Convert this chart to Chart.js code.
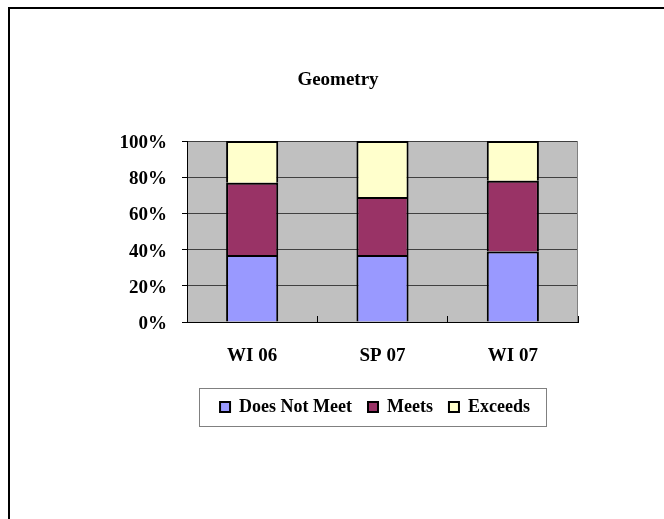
<!DOCTYPE html>
<html>
<head>
<meta charset="utf-8">
<script src="https://cdn.jsdelivr.net/npm/chart.js@4.4.1/dist/chart.umd.min.js"></script>
<style>
  html, body { margin: 0; padding: 0; background: #fff; width: 664px; height: 519px; overflow: hidden; }
  #frame { position: absolute; left: 8px; top: 7px; width: 700px; height: 600px;
           border-left: 2px solid #000; border-top: 2px solid #000; }
  #wrap { position: absolute; left: 0; top: 0; width: 664px; height: 519px; }
</style>
</head>
<body>
<div id="frame"></div>
<div id="wrap"><canvas id="geoChart" width="664" height="519"></canvas></div>
<script>
const terms = ['WI 06', 'SP 07', 'WI 07'];
const doesNotMeet = [37, 37, 39];
const meets = [40, 32, 39];
const exceeds = [23, 31, 22];
const percentTicks = [0, 20, 40, 60, 80, 100];

const serif = '"Liberation Serif", "Times New Roman", serif';

// grey plot fill + right edge, Excel style
const plotBackdrop = {
    id: 'plotBackdrop',
    beforeDraw(chart) {
        const { ctx, chartArea: a } = chart;
        ctx.save();
        ctx.fillStyle = '#c0c0c0';
        ctx.fillRect(a.left, a.top, a.right - a.left, a.bottom - a.top);
        ctx.restore();
    },
    beforeDatasetsDraw(chart) {
        const { ctx, chartArea: a } = chart;
        ctx.save();
        ctx.strokeStyle = '#808080';
        ctx.lineWidth = 1;
        ctx.beginPath();
        ctx.moveTo(Math.round(a.right) - 0.5, a.top);
        ctx.lineTo(Math.round(a.right) - 0.5, a.bottom);
        ctx.stroke();
        ctx.restore();
    }
};

// title and legend are not centred on the same line in the original,
// so the title is drawn by hand and the legend box is slid over
const offsetTitle = {
    id: 'offsetTitle',
    afterLayout(chart) {
        const lg = chart.legend;
        const half = (lg.right - lg.left) / 2;
        lg.left = 375 - half;
        lg.right = 375 + half;
    },
    afterDraw(chart) {
        const ctx = chart.ctx;
        ctx.save();
        ctx.font = 'bold 19px ' + serif;
        ctx.fillStyle = '#000';
        ctx.textAlign = 'center';
        ctx.textBaseline = 'alphabetic';
        ctx.fillText('Geometry', 338, 85);
        ctx.restore();
    }
};

// thin box round the legend items
const legendFrame = {
    id: 'legendFrame',
    afterDraw(chart) {
        const boxes = chart.legend && chart.legend.legendHitBoxes;
        if (!boxes || !boxes.length) return;
        const first = boxes[0], last = boxes[boxes.length - 1];
        const mid = first.top + first.height / 2;
        const left = Math.round(first.left - 21) + 0.5;
        const right = Math.round(last.left + last.width + 16) + 0.5;
        const ctx = chart.ctx;
        ctx.save();
        ctx.strokeStyle = '#808080';
        ctx.lineWidth = 1;
        ctx.strokeRect(left, Math.round(mid - 19) + 0.5, right - left, 38);
        ctx.restore();
    }
};

new Chart(document.getElementById('geoChart'), {
    type: 'bar',
    data: {
        labels: terms,
        datasets: [
            { label: 'Does Not Meet', data: doesNotMeet, backgroundColor: '#9999ff' },
            { label: 'Meets', data: meets, backgroundColor: '#993366' },
            { label: 'Exceeds', data: exceeds, backgroundColor: '#ffffcc' }
        ]
    },
    options: {
        responsive: false,
        animation: false,
        layout: { padding: { top: 141, left: 100, right: 86, bottom: 93 } },
        datasets: {
            bar: { borderColor: '#000', borderWidth: 2, barPercentage: 0.4, categoryPercentage: 1 }
        },
        plugins: {
            title: { display: false },
            tooltip: { enabled: false },
            legend: {
                position: 'bottom',
                align: 'center',
                labels: {
                    boxWidth: 10, boxHeight: 10, padding: 16, color: '#000',
                    font: { family: serif, size: 18, weight: 'bold' }
                }
            }
        },
        scales: {
            x: {
                stacked: true,
                grid: { drawOnChartArea: false, drawTicks: true, tickLength: -6, color: '#000' },
                border: { color: '#000', width: 1 },
                ticks: { padding: 29, color: '#000', font: { family: serif, size: 19, weight: 'bold' } },
                afterFit: s => { s.height = 60; }
            },
            y: {
                stacked: true,
                min: 0, max: 100,
                afterBuildTicks: s => { s.ticks = percentTicks.map(v => ({ value: v })); },
                grid: { color: '#404040', tickColor: '#000', tickLength: 5 },
                border: { color: '#000', width: 1 },
                ticks: { padding: 15, labelOffset: 2, color: '#000',
                         font: { family: serif, size: 19, weight: 'bold' },
                         callback: v => v + '%' },
                afterFit: s => { s.width = 87; }
            }
        }
    },
    plugins: [plotBackdrop, offsetTitle, legendFrame]
});
</script>
</body>
</html>
